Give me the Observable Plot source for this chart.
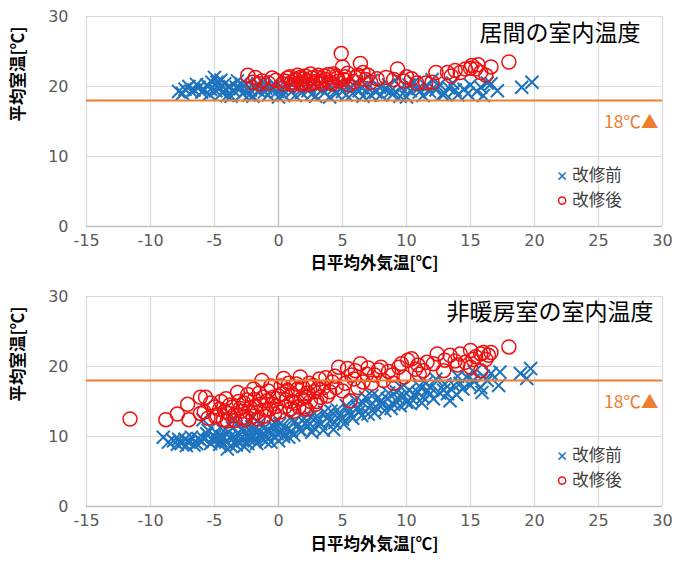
<!DOCTYPE html>
<html>
<head>
<meta charset="utf-8">
<script src="https://cdn.jsdelivr.net/npm/d3@7"></script>
<script src="https://cdn.jsdelivr.net/npm/@observablehq/plot@0.6"></script>
<style>
  html, body { margin: 0; padding: 0; background: #fff; }
  #chart { width: 700px; height: 565px; }
  #chart svg { display: block; }
</style>
</head>
<body>
<div id="chart"></div>
<script>
// ---- Tick labels / categories ----
const xTicks = [-15, -10, -5, 0, 5, 10, 15, 20, 25, 30];
const yTicks = [0, 10, 20, 30];
const seriesNames = ["改修前", "改修後"];
const xTitle = "日平均外気温[℃]";
const yTitle = "平均室温[℃]";
const panelTitles = ["居間の室内温度", "非暖房室の室内温度"];
const threshold = 18;
const thresholdLabel = "18℃▲";

// ---- Panel 1: 居間 (living room) [outdoor temp, room temp] ----
const livingBefore = [
  [-7.8,19.3],[-7.3,19.6],[-7,20.0],[-6.6,19.5],[-6.2,19.9],[-6,19.2],[-5.6,20.2],[-5.3,19.6],[-5,21.3],[-4.8,20.6],
  [-4.6,19.8],[-4.4,19.1],[-4.2,20.4],[-4,18.7],[-3.8,20.0],[-3.5,19.4],[-3.2,20.8],[-3,19.7],[-2.8,19.0],[-2.5,20.3],
  [-2.2,19.5],[-2,18.6],[-1.8,20.0],[-1.5,19.3],[-1.2,20.6],[-1,19.8],[-0.8,18.8],[-0.5,19.5],[-0.2,20.1],[0,18.5],
  [0.3,19.6],[0.6,20.3],[1,19.2],[1.3,18.7],[1.6,19.9],[2,20.5],[2.3,19.4],[2.6,18.9],[3,19.8],[3.3,20.4],
  [3.6,19.1],[4,18.5],[4.3,19.7],[4.6,20.2],[5,19.3],[5.3,18.8],[5.6,19.9],[6,20.5],[6.3,19.4],[6.6,18.6],
  [7,19.8],[7.3,20.9],[7.6,19.2],[8,18.8],[8.3,19.6],[8.6,20.2],[9,19.0],[9.3,21.2],[9.6,19.8],[10,18.5],
  [10.3,19.4],[10.6,20.6],[11,19.2],[11.3,18.7],[11.6,20.0],[12,21.0],[12.3,19.5],[12.6,20.3],[13,19.0],[13.3,19.8],
  [13.6,20.5],[14,18.8],[14.5,19.6],[15,20.2],[15.5,19.3],[16,18.7],[16.6,20.4],[17.1,19.4],[19.0,19.9],[19.8,20.6],
  [-7.5,19.0],[-6.8,19.3],[-6.4,20.3],[-5.8,19.5],[-5.4,18.9],[-5.2,20.6],[-4.9,19.4],[-4.5,20.9],[-4.1,19.6],[-3.7,18.6],
  [-3.3,19.9],[-2.9,20.4],[-2.6,19.3],[-2.3,18.8],[-1.9,19.8],[-1.6,20.4],[-1.1,19.2],[-0.6,20.0],[-0.1,19.3],[0.4,18.8],
  [0.8,19.9],[1.2,20.5],[1.8,19.1],[2.4,19.9],[2.9,18.6],[3.4,19.5],[3.9,20.1],[4.5,19.0],[5.1,20.2],[5.8,19.0],
  [6.5,19.8],[7.2,18.8],[7.9,19.9],[8.7,19.2],[9.5,18.6],[10.2,20.2],[10.9,19.7],[11.8,19.3],[12.8,18.9],[13.8,19.5],
  [14.8,19.0],[15.8,19.9],[16.3,20.5]
];
const livingAfter = [
  [-2.4,21.6],[-1.8,21.3],[-1.3,20.8],[-0.8,20.5],[-0.2,20.9],[0.3,20.4],[0.7,21.2],[1.0,20.6],[1.3,21.0],[1.5,21.6],
  [1.8,20.3],[2.0,21.1],[2.2,20.7],[2.5,21.8],[2.7,20.5],[3.0,21.3],[3.3,20.8],[3.6,21.5],[4.0,20.6],[4.3,21.8],
  [4.6,21.2],[4.9,24.7],[5.0,22.8],[5.2,21.4],[5.5,20.2],[5.9,20.7],[6.2,21.6],[6.4,23.3],[6.6,22.0],[6.8,21.0],
  [7.2,20.6],[7.7,21.1],[8.4,21.3],[9.3,22.5],[9.8,20.8],[10.4,21.1],[10.8,20.5],[12.0,20.6],[12.3,22.0],[13.2,22.0],
  [13.8,22.3],[14.6,22.5],[15.1,23.0],[15.4,22.5],[15.8,22.0],[16.2,21.6],[16.6,22.8],[18.0,23.5],
  [0.5,20.8],[0.9,21.4],[1.1,20.2],[1.4,20.9],[1.7,21.3],[1.9,20.6],[2.1,21.5],[2.4,20.3],[2.6,21.2],[2.9,20.7],
  [3.1,21.6],[3.4,20.4],[3.7,21.0],[3.9,21.7],[4.2,20.4],[4.5,21.5],[4.7,20.8],[5.1,21.0],[5.4,21.9],[-2.0,20.6],
  [-1.5,20.4],[-0.5,21.2],[6.0,21.3],[7.0,21.6],[9.0,21.0],[10.0,21.4],[11.5,20.5],[13.5,21.5],[14.2,22.0],[15.0,22.6],
  [15.6,23.1]
];

// ---- Panel 2: 非暖房室 (unheated room) ----
const unheatedBefore = [
  [-9.0,9.9],[-8.2,9.4],[-7.9,8.9],[-7.6,9.0],[-7.3,9.6],[-7.0,9.2],[-6.6,8.8],[-6.3,9.7],[-6.0,9.3],[-5.9,12.4],
  [-5.6,10.4],[-5.3,9.0],[-5.0,10.0],[-4.8,9.6],[-4.5,9.4],[-4.3,10.8],[-4.0,8.2],[-3.8,9.9],[-3.6,11.2],[-3.5,12.3],
  [-3.3,8.8],[-3.0,10.3],[-2.8,9.4],[-2.6,11.5],[-2.4,9.0],[-2.2,10.1],[-2.0,10.9],[-2.0,12.8],[-1.8,9.6],[-1.5,11.8],
  [-1.2,10.4],[-1.0,9.3],[-0.8,11.0],[-0.5,10.2],[-0.3,12.0],[0.0,9.4],[0.2,10.6],[0.5,11.3],[0.8,9.9],[1.0,10.8],
  [1.3,12.2],[1.6,11.0],[2.0,12.6],[2.3,11.5],[2.6,10.6],[3.0,12.9],[3.3,11.8],[3.6,13.5],[4.0,12.2],[4.3,11.0],
  [4.6,13.8],[5.0,12.5],[5.3,14.4],[5.6,13.0],[6.0,15.2],[6.3,13.6],[6.6,14.8],[7.0,13.2],[7.3,15.8],[7.6,14.2],
  [8.0,15.0],[8.3,13.7],[8.6,16.2],[9.0,14.6],[9.3,15.5],[9.6,17.0],[10.0,14.9],[10.3,14.7],[10.6,16.0],[11.0,17.2],
  [11.3,15.6],[11.6,16.6],[11.9,17.0],[12.3,18.2],[12.6,16.2],[13.0,17.5],[13.2,16.1],[13.4,15.1],[13.7,17.3],[14.0,18.6],
  [14.4,16.8],[14.7,18.5],[15.0,17.3],[15.3,19.2],[15.8,17.0],[15.9,16.3],[16.3,18.0],[16.6,19.0],[17.2,17.3],[17.3,19.2],
  [18.9,19.0],[19.4,18.3],[19.7,19.7],
  [-8.6,9.2],[-7.8,9.6],[-7.2,8.7],[-6.8,9.9],[-6.4,9.0],[-5.8,9.6],[-5.5,10.9],[-5.1,9.4],[-4.9,10.6],[-4.6,8.9],
  [-4.4,10.0],[-4.1,9.2],[-3.9,10.6],[-3.7,8.6],[-3.4,10.0],[-3.2,9.3],[-2.9,11.0],[-2.7,8.6],[-2.5,10.5],[-2.3,9.6],
  [-2.1,11.4],[-1.9,10.2],[-1.7,9.0],[-1.6,10.8],[-1.3,9.7],[-1.1,11.2],[-0.9,10.0],[-0.6,9.2],[-0.4,11.4],[-0.1,10.4],
  [0.1,11.8],[0.4,10.0],[0.7,11.0],[0.9,12.6],[1.2,10.2],[1.5,11.6],[1.8,10.8],[2.1,11.8],[2.5,12.8],[2.8,11.2],
  [3.1,12.2],[3.5,10.9],[3.8,12.6],[4.1,13.6],[4.4,12.0],[4.8,13.0],[5.1,11.8],[5.5,13.6],[5.8,12.6],[6.2,14.2],
  [6.5,13.0],[6.8,15.6],[7.2,14.4],[7.5,13.4],[7.8,15.6],[8.1,14.6],[8.5,15.4],[8.8,14.0],[9.2,16.4],[9.5,14.4],
  [9.8,15.8],[10.2,16.6],[10.5,15.2],[10.9,16.3],[11.2,14.8],[11.5,17.6],[11.8,16.0],[12.1,15.4],[12.9,16.6],[13.9,16.0],
  [14.2,17.6],[15.2,18.0],[16.0,18.6]
];
const unheatedAfter = [
  [-11.6,12.5],[-8.8,12.4],[-7.9,13.2],[-7.1,14.6],[-7.0,12.4],[-6.1,15.6],[-5.7,15.6],[-6.1,13.3],[-5.5,12.6],[-5.0,14.2],
  [-4.8,13.0],[-4.5,15.0],[-4.2,13.6],[-4.0,12.2],[-3.8,14.5],[-3.5,13.0],[-3.2,16.3],[-3.0,14.0],[-2.8,12.7],[-2.5,15.2],
  [-2.3,13.5],[-1.95,16.8],[-1.8,14.3],[-1.6,12.5],[-1.3,18.0],[-1.2,15.6],[-1.0,13.8],[-0.8,16.5],[-0.5,14.6],[-0.3,13.2],
  [0.0,15.8],[0.2,17.2],[0.4,18.3],[0.5,14.2],[0.7,16.6],[1.0,15.0],[1.2,13.6],[1.4,17.5],[1.7,18.5],[1.8,15.4],
  [2.0,14.2],[2.3,16.2],[2.7,17.3],[3.0,15.0],[3.2,18.2],[3.5,17.0],[3.8,15.8],[4.2,17.8],[4.7,19.9],[5.0,16.5],
  [5.4,19.7],[5.6,15.1],[5.9,18.2],[6.2,17.0],[6.4,20.4],[6.9,18.9],[7.3,17.6],[7.8,19.5],[8.2,18.0],[8.6,19.3],
  [9.0,17.6],[9.4,19.9],[9.8,18.5],[10.1,20.9],[10.4,21.1],[10.7,19.6],[11.3,19.4],[11.6,20.6],[12.1,20.4],[12.4,21.8],
  [12.9,19.4],[13.4,21.6],[13.8,20.8],[14.2,21.8],[14.6,20.6],[15.0,22.3],[15.0,19.9],[15.4,21.4],[15.8,21.8],[15.8,19.4],
  [16.2,21.0],[16.6,22.0],[18.0,22.8],
  [-5.8,13.5],[-5.3,14.8],[-4.9,12.8],[-4.6,13.9],[-4.3,12.4],[-4.1,15.4],[-3.9,13.3],[-3.6,14.2],[-3.4,12.3],[-3.1,15.0],
  [-2.9,13.6],[-2.7,14.8],[-2.6,12.4],[-2.4,16.0],[-2.2,14.1],[-2.0,12.9],[-1.9,15.3],[-1.7,13.4],[-1.5,16.2],[-1.4,14.6],
  [-1.1,12.9],[-0.9,15.1],[-0.7,13.9],[-0.6,17.2],[-0.4,15.6],[-0.2,14.3],[0.1,13.5],[0.3,16.1],[0.6,15.2],[0.8,17.6],
  [0.9,13.9],[1.1,16.0],[1.3,14.8],[1.5,16.8],[1.6,14.2],[1.9,17.0],[2.1,15.6],[2.2,13.9],[2.4,17.6],[2.5,15.0],
  [2.8,16.4],[2.9,14.6],[3.1,16.9],[3.3,15.6],[3.7,18.4],[4.0,16.4],[4.4,18.6],[4.5,17.0],[5.2,17.6],[5.7,18.8],
  [6.0,19.4],[6.6,17.8],[7.0,19.8],[7.5,18.8],[8.0,19.9],[8.9,18.8],[9.6,20.4],[10.9,20.2],[11.0,18.9],[13.0,20.9],
  [14.0,20.2],[15.2,21.0],[16.0,22.0],[16.4,21.6]
];

const BLUE = "#1E73BE";
const RED = "#F01010";
const ORANGE = "#ED7D31";
const GRID = "#d9d9d9";
const FONT = "'DejaVu Sans','Noto Sans CJK JP',sans-serif";
const JFONT = "'Noto Sans CJK JP',sans-serif";

function panel(before, after, title, opts) {
  return Plot.plot({
    width: 700,
    height: opts.height,
    marginTop: opts.marginTop,
    marginBottom: opts.marginBottom,
    marginLeft: 86,
    marginRight: 38,
    style: { fontFamily: FONT, background: "#fff", overflow: "visible" },
    x: { domain: [-15, 30] },
    y: { domain: [0, 30] },
    marks: [
      Plot.gridX(xTicks, { stroke: GRID, strokeOpacity: 1, strokeWidth: 1.2 }),
      Plot.gridY(yTicks, { stroke: GRID, strokeOpacity: 1, strokeWidth: 1.2 }),
      Plot.ruleX([0], { stroke: "#bfbfbf", strokeWidth: 1.2 }),
      Plot.ruleY([0], { stroke: "#bfbfbf", strokeWidth: 1.5 }),
      Plot.axisX({ ticks: xTicks, tickFormat: d => String(d), tickSize: 0, tickPadding: 8, fontSize: 16, fill: "#595959", label: null }),
      Plot.axisY({ ticks: yTicks, tickFormat: d => String(d), tickSize: 0, tickPadding: 18, fontSize: 16, fill: "#595959", label: null }),
      Plot.dot(before, { x: d => d[0], y: d => d[1], symbol: "times", r: 6, stroke: BLUE, strokeWidth: 2 }),
      Plot.dot(after, { x: d => d[0], y: d => d[1], symbol: "circle", r: 7, stroke: RED, strokeWidth: 1.5, fill: "none" }),
      Plot.ruleY([threshold], { stroke: ORANGE, strokeWidth: 2.2 }),
      Plot.text([thresholdLabel], { text: d => d, y: threshold, frameAnchor: "right", dx: -4, dy: 22, textAnchor: "end", fontSize: 17.5, fill: ORANGE, fontFamily: JFONT }),
      Plot.text([title], { text: d => d, frameAnchor: "top-right", dx: opts.titleDx, dy: opts.titleDy, textAnchor: "end", lineAnchor: "middle", fontSize: 23, fill: "#000", fontFamily: JFONT }),
      // legend
      Plot.dot([seriesNames[0]], { x: 22.16, y: 7.2, symbol: "times", r: 3.3, stroke: BLUE, strokeWidth: 1.5 }),
      Plot.dot([seriesNames[1]], { x: 22.16, y: 3.7, symbol: "circle", r: 3.6, stroke: RED, strokeWidth: 1.5, fill: "none" }),
      Plot.text([seriesNames[0]], { text: d => d, x: 22.94, y: 7.2, textAnchor: "start", fontSize: 16.5, fill: "#404040", fontFamily: JFONT }),
      Plot.text([seriesNames[1]], { text: d => d, x: 22.94, y: 3.7, textAnchor: "start", fontSize: 16.5, fill: "#404040", fontFamily: JFONT }),
      // axis titles
      Plot.text([xTitle], { text: d => d, frameAnchor: "bottom", dy: opts.xTitleDy, fontSize: 16.5, fontWeight: "bold", fill: "#000", fontFamily: JFONT }),
      Plot.text([yTitle], { text: d => d, frameAnchor: "left", dx: -68, rotate: -90, fontSize: 16.5, fontWeight: "bold", fill: "#000", fontFamily: JFONT })
    ]
  });
}

const chart = document.getElementById("chart");
chart.appendChild(panel(livingBefore, livingAfter, panelTitles[0],
  { height: 282, marginTop: 16, marginBottom: 56, titleDx: -22, titleDy: 17, xTitleDy: 42 }));
chart.appendChild(panel(unheatedBefore, unheatedAfter, panelTitles[1],
  { height: 283, marginTop: 14, marginBottom: 59, titleDx: -9, titleDy: 16, xTitleDy: 43 }));
</script>
</body>
</html>
